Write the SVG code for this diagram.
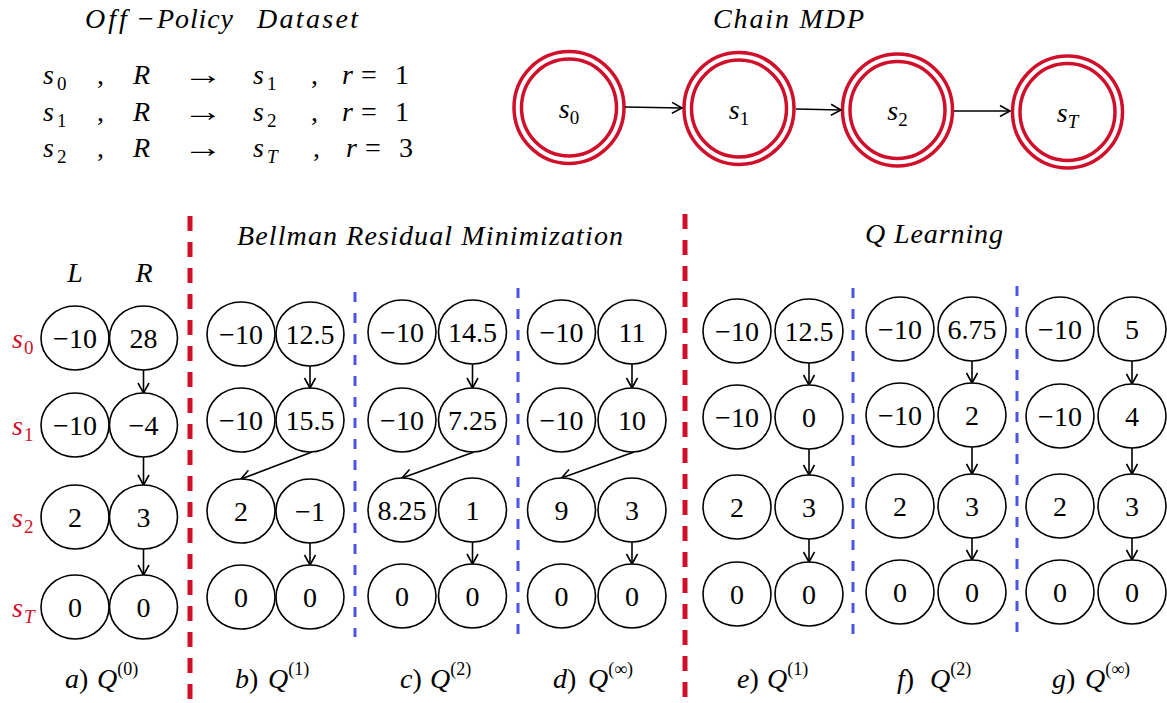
<svg xmlns="http://www.w3.org/2000/svg" width="1167" height="703" viewBox="0 0 1167 703" font-family="'Liberation Serif', 'DejaVu Serif', serif">
<style>
text{font-family:'Liberation Serif','DejaVu Serif',serif;font-size:28px;fill:#000}
.i{font-style:italic}
.sub{font-size:19px}
.sup{font-size:18px}
.v{text-anchor:middle}
.red{fill:#d0102b}
.q{fill:#fff;stroke:#000;stroke-width:1.6}
.m{fill:none;stroke:#d0102b;stroke-width:3.5}
.c{fill:none;stroke:#000;stroke-width:1.6}
.rd{stroke:#d0102b;stroke-width:5;stroke-dasharray:15 11}
.bd{stroke:#4b55e6;stroke-width:3;stroke-dasharray:10 11}
</style>
<defs>
<marker id="ah" markerUnits="userSpaceOnUse" markerWidth="14" markerHeight="14" refX="11" refY="7" orient="auto">
<path d="M1,1.5 L11,7 L1,12.5" fill="none" stroke="#000" stroke-width="1.6"/>
</marker>
</defs>

<g id="dataset">
<text x="85" y="28" class="i" letter-spacing="3">Off</text>
<text x="138" y="28">−</text>
<text x="157" y="28" class="i" textLength="76">Policy</text>
<text x="257" y="28" class="i" textLength="101">Dataset</text>
<text x="43" y="84" class="i">s</text><text x="57" y="90" class="sub">0</text><text x="97" y="84">,</text><text x="133" y="84" class="i">R</text><text transform="translate(183 84) scale(1.45 1)">→</text><text x="253" y="84" class="i">s</text><text x="267" y="90" class="sub">1</text><text x="311" y="84">,</text><text x="342" y="84" class="i">r</text><text x="361" y="84">=</text><text x="395" y="84">1</text>
<text x="43" y="121" class="i">s</text><text x="57" y="127" class="sub">1</text><text x="97" y="121">,</text><text x="133" y="121" class="i">R</text><text transform="translate(183 121) scale(1.45 1)">→</text><text x="253" y="121" class="i">s</text><text x="267" y="127" class="sub">2</text><text x="311" y="121">,</text><text x="342" y="121" class="i">r</text><text x="361" y="121">=</text><text x="395" y="121">1</text>
<text x="43" y="157" class="i">s</text><text x="57" y="163" class="sub">2</text><text x="97" y="157">,</text><text x="133" y="157" class="i">R</text><text transform="translate(183 157) scale(1.45 1)">→</text><text x="253" y="157" class="i">s</text><text x="267" y="163" class="sub i">T</text><text x="313" y="157">,</text><text x="346" y="157" class="i">r</text><text x="365" y="157">=</text><text x="399" y="157">3</text>
</g>

<text x="713" y="28" class="i" textLength="151">Chain MDP</text>
<g id="mdp-s0"><ellipse class="m" cx="569" cy="107.5" rx="55" ry="56"/><ellipse class="m" cx="569" cy="107.5" rx="47.5" ry="48.5"/><text x="569" y="118" class="v"><tspan class="i">s</tspan><tspan class="sub" dy="6">0</tspan></text></g>
<g id="mdp-s1"><ellipse class="m" cx="739" cy="108.5" rx="55" ry="56"/><ellipse class="m" cx="739" cy="108.5" rx="47.5" ry="48.5"/><text x="739" y="119" class="v"><tspan class="i">s</tspan><tspan class="sub" dy="6">1</tspan></text></g>
<g id="mdp-s2"><ellipse class="m" cx="897.5" cy="110" rx="55" ry="56"/><ellipse class="m" cx="897.5" cy="110" rx="47.5" ry="48.5"/><text x="897.5" y="120" class="v"><tspan class="i">s</tspan><tspan class="sub" dy="6">2</tspan></text></g>
<g id="mdp-sT"><ellipse class="m" cx="1067.5" cy="112" rx="55" ry="56"/><ellipse class="m" cx="1067.5" cy="112" rx="47.5" ry="48.5"/><text x="1067.5" y="122" class="v"><tspan class="i">s</tspan><tspan class="sub i" dy="6">T</tspan></text></g>

<g id="separators">
<line class="rd" x1="190" y1="216" x2="190" y2="703"/>
<line class="rd" x1="685" y1="214" x2="685" y2="703"/>
<line class="bd" x1="355" y1="292" x2="355" y2="637"/>
<line class="bd" x1="518" y1="288" x2="518" y2="637"/>
<line class="bd" x1="853" y1="288" x2="853" y2="637"/>
<line class="bd" x1="1017" y1="286" x2="1017" y2="637"/>
</g>

<g id="headers">
<text x="237" y="245" class="i" textLength="386">Bellman Residual Minimization</text>
<text x="865" y="243" class="i" textLength="138">Q Learning</text>
<text x="75" y="282" class="i v">L</text>
<text x="144" y="282" class="i v">R</text>
<text x="12" y="348" class="i red">s</text><text x="24" y="354" class="sub red">0</text>
<text x="12" y="435" class="i red">s</text><text x="24" y="441" class="sub red">1</text>
<text x="12" y="527" class="i red">s</text><text x="24" y="533" class="sub red">2</text>
<text x="12" y="617" class="i red">s</text><text x="24" y="623" class="sub i red">T</text>
</g>

<g id="connectors">
<line class="c" marker-end="url(#ah)" x1="625" y1="107" x2="682" y2="108"/>
<line class="c" marker-end="url(#ah)" x1="796" y1="109" x2="841" y2="110"/>
<line class="c" marker-end="url(#ah)" x1="954" y1="111" x2="1010" y2="111"/>
<line class="c" marker-end="url(#ah)" x1="143.5" y1="370" x2="143.5" y2="393"/>
<line class="c" marker-end="url(#ah)" x1="143.5" y1="457" x2="143.5" y2="485"/>
<line class="c" marker-end="url(#ah)" x1="143.5" y1="549" x2="143.5" y2="575"/>
<line class="c" marker-end="url(#ah)" x1="310" y1="366" x2="310" y2="388"/>
<line class="c" marker-end="url(#ah)" x1="312" y1="452" x2="241" y2="479"/>
<line class="c" marker-end="url(#ah)" x1="310" y1="543" x2="310" y2="565"/>
<line class="c" marker-end="url(#ah)" x1="472.5" y1="364" x2="472.5" y2="388"/>
<line class="c" marker-end="url(#ah)" x1="474" y1="452" x2="402" y2="478"/>
<line class="c" marker-end="url(#ah)" x1="472.5" y1="542" x2="472.5" y2="564"/>
<line class="c" marker-end="url(#ah)" x1="632" y1="364" x2="632" y2="388"/>
<line class="c" marker-end="url(#ah)" x1="634" y1="452" x2="561.5" y2="478"/>
<line class="c" marker-end="url(#ah)" x1="632" y1="542" x2="632" y2="564"/>
<line class="c" marker-end="url(#ah)" x1="809" y1="363" x2="809" y2="385"/>
<line class="c" marker-end="url(#ah)" x1="809" y1="449" x2="809" y2="475"/>
<line class="c" marker-end="url(#ah)" x1="809" y1="539" x2="809" y2="562"/>
<line class="c" marker-end="url(#ah)" x1="972" y1="361" x2="972" y2="383"/>
<line class="c" marker-end="url(#ah)" x1="972" y1="447" x2="972" y2="474"/>
<line class="c" marker-end="url(#ah)" x1="972" y1="538" x2="972" y2="560"/>
<line class="c" marker-end="url(#ah)" x1="1132" y1="361" x2="1132" y2="384"/>
<line class="c" marker-end="url(#ah)" x1="1132" y1="448" x2="1132" y2="474"/>
<line class="c" marker-end="url(#ah)" x1="1132" y1="538" x2="1132" y2="560"/>
</g>

<g id="panel-a">
<g id="a-s0-L"><ellipse class="q" cx="75" cy="338" rx="34" ry="32"/><text x="75" y="348" class="v">−10</text></g>
<g id="a-s0-R"><ellipse class="q" cx="143.5" cy="338" rx="34" ry="32"/><text x="143.5" y="348" class="v">28</text></g>
<g id="a-s1-L"><ellipse class="q" cx="75" cy="425" rx="34" ry="32"/><text x="75" y="435" class="v">−10</text></g>
<g id="a-s1-R"><ellipse class="q" cx="143.5" cy="425" rx="34" ry="32"/><text x="143.5" y="435" class="v">−4</text></g>
<g id="a-s2-L"><ellipse class="q" cx="75" cy="517" rx="34" ry="32"/><text x="75" y="527" class="v">2</text></g>
<g id="a-s2-R"><ellipse class="q" cx="143.5" cy="517" rx="34" ry="32"/><text x="143.5" y="527" class="v">3</text></g>
<g id="a-sT-L"><ellipse class="q" cx="75" cy="607" rx="34" ry="32"/><text x="75" y="617" class="v">0</text></g>
<g id="a-sT-R"><ellipse class="q" cx="143.5" cy="607" rx="34" ry="32"/><text x="143.5" y="617" class="v">0</text></g>
</g>

<g id="panel-b">
<g id="b-s0-L"><ellipse class="q" cx="241" cy="334" rx="34" ry="32"/><text x="241" y="344" class="v">−10</text></g>
<g id="b-s0-R"><ellipse class="q" cx="310" cy="334" rx="34" ry="32"/><text x="310" y="344" class="v">12.5</text></g>
<g id="b-s1-L"><ellipse class="q" cx="241" cy="420" rx="34" ry="32"/><text x="241" y="430" class="v">−10</text></g>
<g id="b-s1-R"><ellipse class="q" cx="310" cy="420" rx="34" ry="32"/><text x="310" y="430" class="v">15.5</text></g>
<g id="b-s2-L"><ellipse class="q" cx="241" cy="511" rx="34" ry="32"/><text x="241" y="521" class="v">2</text></g>
<g id="b-s2-R"><ellipse class="q" cx="310" cy="511" rx="34" ry="32"/><text x="310" y="521" class="v">−1</text></g>
<g id="b-sT-L"><ellipse class="q" cx="241" cy="597" rx="34" ry="32"/><text x="241" y="607" class="v">0</text></g>
<g id="b-sT-R"><ellipse class="q" cx="310" cy="597" rx="34" ry="32"/><text x="310" y="607" class="v">0</text></g>
</g>

<g id="panel-c">
<g id="c-s0-L"><ellipse class="q" cx="402" cy="332" rx="34" ry="32"/><text x="402" y="342" class="v">−10</text></g>
<g id="c-s0-R"><ellipse class="q" cx="472.5" cy="332" rx="34" ry="32"/><text x="472.5" y="342" class="v">14.5</text></g>
<g id="c-s1-L"><ellipse class="q" cx="402" cy="420" rx="34" ry="32"/><text x="402" y="430" class="v">−10</text></g>
<g id="c-s1-R"><ellipse class="q" cx="472.5" cy="420" rx="34" ry="32"/><text x="472.5" y="430" class="v">7.25</text></g>
<g id="c-s2-L"><ellipse class="q" cx="402" cy="510" rx="34" ry="32"/><text x="402" y="520" class="v">8.25</text></g>
<g id="c-s2-R"><ellipse class="q" cx="472.5" cy="510" rx="34" ry="32"/><text x="472.5" y="520" class="v">1</text></g>
<g id="c-sT-L"><ellipse class="q" cx="402" cy="596" rx="34" ry="32"/><text x="402" y="606" class="v">0</text></g>
<g id="c-sT-R"><ellipse class="q" cx="472.5" cy="596" rx="34" ry="32"/><text x="472.5" y="606" class="v">0</text></g>
</g>

<g id="panel-d">
<g id="d-s0-L"><ellipse class="q" cx="561.5" cy="332" rx="34" ry="32"/><text x="561.5" y="342" class="v">−10</text></g>
<g id="d-s0-R"><ellipse class="q" cx="632" cy="332" rx="34" ry="32"/><text x="632" y="342" class="v">11</text></g>
<g id="d-s1-L"><ellipse class="q" cx="561.5" cy="420" rx="34" ry="32"/><text x="561.5" y="430" class="v">−10</text></g>
<g id="d-s1-R"><ellipse class="q" cx="632" cy="420" rx="34" ry="32"/><text x="632" y="430" class="v">10</text></g>
<g id="d-s2-L"><ellipse class="q" cx="561.5" cy="510" rx="34" ry="32"/><text x="561.5" y="520" class="v">9</text></g>
<g id="d-s2-R"><ellipse class="q" cx="632" cy="510" rx="34" ry="32"/><text x="632" y="520" class="v">3</text></g>
<g id="d-sT-L"><ellipse class="q" cx="561.5" cy="596" rx="34" ry="32"/><text x="561.5" y="606" class="v">0</text></g>
<g id="d-sT-R"><ellipse class="q" cx="632" cy="596" rx="34" ry="32"/><text x="632" y="606" class="v">0</text></g>
</g>

<g id="panel-e">
<g id="e-s0-L"><ellipse class="q" cx="737" cy="331" rx="34" ry="32"/><text x="737" y="341" class="v">−10</text></g>
<g id="e-s0-R"><ellipse class="q" cx="809" cy="331" rx="34" ry="32"/><text x="809" y="341" class="v">12.5</text></g>
<g id="e-s1-L"><ellipse class="q" cx="737" cy="417" rx="34" ry="32"/><text x="737" y="427" class="v">−10</text></g>
<g id="e-s1-R"><ellipse class="q" cx="809" cy="417" rx="34" ry="32"/><text x="809" y="427" class="v">0</text></g>
<g id="e-s2-L"><ellipse class="q" cx="737" cy="507" rx="34" ry="32"/><text x="737" y="517" class="v">2</text></g>
<g id="e-s2-R"><ellipse class="q" cx="809" cy="507" rx="34" ry="32"/><text x="809" y="517" class="v">3</text></g>
<g id="e-sT-L"><ellipse class="q" cx="737" cy="594" rx="34" ry="32"/><text x="737" y="604" class="v">0</text></g>
<g id="e-sT-R"><ellipse class="q" cx="809" cy="594" rx="34" ry="32"/><text x="809" y="604" class="v">0</text></g>
</g>

<g id="panel-f">
<g id="f-s0-L"><ellipse class="q" cx="900" cy="329" rx="34" ry="32"/><text x="900" y="339" class="v">−10</text></g>
<g id="f-s0-R"><ellipse class="q" cx="972" cy="329" rx="34" ry="32"/><text x="972" y="339" class="v">6.75</text></g>
<g id="f-s1-L"><ellipse class="q" cx="900" cy="415" rx="34" ry="32"/><text x="900" y="425" class="v">−10</text></g>
<g id="f-s1-R"><ellipse class="q" cx="972" cy="415" rx="34" ry="32"/><text x="972" y="425" class="v">2</text></g>
<g id="f-s2-L"><ellipse class="q" cx="900" cy="506" rx="34" ry="32"/><text x="900" y="516" class="v">2</text></g>
<g id="f-s2-R"><ellipse class="q" cx="972" cy="506" rx="34" ry="32"/><text x="972" y="516" class="v">3</text></g>
<g id="f-sT-L"><ellipse class="q" cx="900" cy="592" rx="34" ry="32"/><text x="900" y="602" class="v">0</text></g>
<g id="f-sT-R"><ellipse class="q" cx="972" cy="592" rx="34" ry="32"/><text x="972" y="602" class="v">0</text></g>
</g>

<g id="panel-g">
<g id="g-s0-L"><ellipse class="q" cx="1060" cy="329" rx="34" ry="32"/><text x="1060" y="339" class="v">−10</text></g>
<g id="g-s0-R"><ellipse class="q" cx="1132" cy="329" rx="34" ry="32"/><text x="1132" y="339" class="v">5</text></g>
<g id="g-s1-L"><ellipse class="q" cx="1060" cy="416" rx="34" ry="32"/><text x="1060" y="426" class="v">−10</text></g>
<g id="g-s1-R"><ellipse class="q" cx="1132" cy="416" rx="34" ry="32"/><text x="1132" y="426" class="v">4</text></g>
<g id="g-s2-L"><ellipse class="q" cx="1060" cy="506" rx="34" ry="32"/><text x="1060" y="516" class="v">2</text></g>
<g id="g-s2-R"><ellipse class="q" cx="1132" cy="506" rx="34" ry="32"/><text x="1132" y="516" class="v">3</text></g>
<g id="g-sT-L"><ellipse class="q" cx="1060" cy="592" rx="34" ry="32"/><text x="1060" y="602" class="v">0</text></g>
<g id="g-sT-R"><ellipse class="q" cx="1132" cy="592" rx="34" ry="32"/><text x="1132" y="602" class="v">0</text></g>
</g>

<g id="captions">
<text x="65" y="688"><tspan class="i">a</tspan>)<tspan x="97" class="i">Q</tspan><tspan class="sup" dy="-13">(0)</tspan></text>
<text x="235" y="688"><tspan class="i">b</tspan>)<tspan x="268" class="i">Q</tspan><tspan class="sup" dy="-13">(1)</tspan></text>
<text x="400" y="688"><tspan class="i">c</tspan>)<tspan x="430" class="i">Q</tspan><tspan class="sup" dy="-13">(2)</tspan></text>
<text x="553" y="688"><tspan class="i">d</tspan>)<tspan x="588" class="i">Q</tspan><tspan class="sup" dy="-13">(∞)</tspan></text>
<text x="737" y="688"><tspan class="i">e</tspan>)<tspan x="767" class="i">Q</tspan><tspan class="sup" dy="-13">(1)</tspan></text>
<text x="897" y="688"><tspan class="i">f</tspan>)<tspan x="930" class="i">Q</tspan><tspan class="sup" dy="-13">(2)</tspan></text>
<text x="1052" y="688"><tspan class="i">g</tspan>)<tspan x="1085" class="i">Q</tspan><tspan class="sup" dy="-13">(∞)</tspan></text>
</g>
</svg>
